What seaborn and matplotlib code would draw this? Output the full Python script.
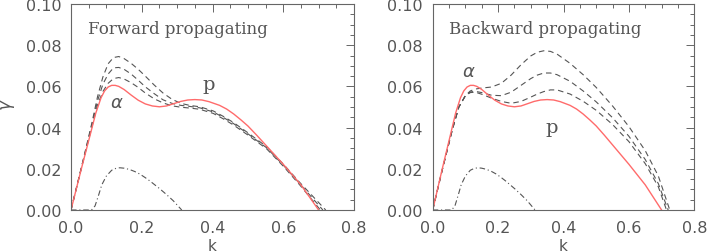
import numpy as np
import pandas as pd
import matplotlib
matplotlib.use("Agg")
import matplotlib.pyplot as plt
import seaborn as sns
from matplotlib.ticker import MultipleLocator, FormatStrFormatter

# red solid curve (same in both panels)
k_red = [0, 0.03, 0.055, 0.07, 0.085, 0.095, 0.105, 0.115, 0.125, 0.135, 0.15, 0.17, 0.19,
         0.21, 0.23, 0.25, 0.27, 0.29, 0.31, 0.33, 0.35, 0.37, 0.39, 0.42, 0.44, 0.46,
         0.48, 0.5, 0.525, 0.55, 0.6, 0.65, 0.7]
g_red = [0, 0.0205, 0.037, 0.047, 0.0545, 0.0578, 0.0597, 0.0605, 0.0605, 0.0600, 0.0585,
         0.0558, 0.0533, 0.0515, 0.0505, 0.0501, 0.0505, 0.0516, 0.0527, 0.0534, 0.0536,
         0.0534, 0.0526, 0.0508, 0.049, 0.0466, 0.0438, 0.0408, 0.0363, 0.0316, 0.0222,
         0.0122, 0]

# dash-dot curve (same in both panels)
k_dd = [0, 0.058, 0.068, 0.078, 0.087, 0.1, 0.115, 0.127, 0.138, 0.15, 0.165, 0.18, 0.195,
        0.21, 0.223, 0.237, 0.251, 0.27, 0.289, 0.313]
g_dd = [0, 0, 0.002, 0.0072, 0.0122, 0.0165, 0.0193, 0.0202, 0.0205, 0.0203, 0.0197,
        0.0187, 0.0174, 0.0157, 0.0141, 0.0122, 0.0103, 0.0075, 0.0045, 0]

# forward propagating dashed curves
k_fwd = [0, 0.03, 0.06, 0.075, 0.09, 0.105, 0.12, 0.135, 0.15, 0.17, 0.19, 0.21, 0.235,
         0.26, 0.285, 0.31, 0.335, 0.364, 0.402, 0.43, 0.459, 0.5, 0.553, 0.6, 0.647]
g_fwd_1 = [0, 0.021, 0.043, 0.055, 0.0645, 0.071, 0.074, 0.0745, 0.0735, 0.0712, 0.0683,
           0.0650, 0.0607, 0.0568, 0.0538, 0.0518, 0.0508, 0.0501, 0.0481, 0.0455, 0.0425,
           0.0375, 0.0307, 0.0223, 0.0133]
g_fwd_2 = [0, 0.021, 0.042, 0.053, 0.061, 0.066, 0.069, 0.0692, 0.0683, 0.066, 0.0630,
           0.0598, 0.0565, 0.0535, 0.0518, 0.0508, 0.0503, 0.0496, 0.0476, 0.045, 0.042,
           0.037, 0.0302, 0.0218, 0.0127]
g_fwd_3 = [0, 0.0208, 0.041, 0.051, 0.0575, 0.0615, 0.0638, 0.0643, 0.0636, 0.0618, 0.0595,
           0.0568, 0.054, 0.052, 0.0506, 0.0499, 0.0495, 0.0489, 0.0469, 0.0443, 0.0413,
           0.0364, 0.0297, 0.0213, 0.0121]
k_fwd_end = [0.72, 0.712, 0.705]

# backward propagating dashed curves
k_bwd = [0, 0.03, 0.06, 0.08, 0.1, 0.115, 0.13, 0.15, 0.18, 0.21, 0.24, 0.27, 0.3, 0.32,
         0.34, 0.36, 0.38, 0.42, 0.46, 0.5, 0.55, 0.6, 0.65, 0.69]
g_bwd_1 = [0, 0.02, 0.039, 0.05, 0.0555, 0.0578, 0.0587, 0.0592, 0.0597, 0.0615, 0.0655,
           0.0705, 0.0748, 0.0766, 0.0773, 0.077, 0.0757, 0.0712, 0.0657, 0.0595, 0.0505,
           0.0405, 0.0288, 0.0165]
g_bwd_2 = [0, 0.02, 0.039, 0.05, 0.0555, 0.0573, 0.0576, 0.0570, 0.0557, 0.0555, 0.0572,
           0.0605, 0.0638, 0.0655, 0.0665, 0.0665, 0.0657, 0.0625, 0.0578, 0.0525, 0.0448,
           0.0358, 0.0245, 0.0128]
g_bwd_3 = [0, 0.02, 0.039, 0.05, 0.0555, 0.057, 0.0572, 0.0562, 0.0543, 0.0527, 0.0518,
           0.0527, 0.0548, 0.0563, 0.0575, 0.0583, 0.0583, 0.0563, 0.0528, 0.0484, 0.0415,
           0.0332, 0.0225, 0.0113]
k_bwd_end = [0.725, 0.72, 0.715]

GRAY = "#555555"
RED = "#ff6b6b"

sns.set_style("white")
plt.rcParams["font.family"] = ["DejaVu Sans"]
plt.rcParams["axes.edgecolor"] = "#666666"
plt.rcParams["axes.linewidth"] = 0.8

fig = plt.figure(figsize=(7.08, 2.53), dpi=100)
W, H = 708, 253
ax1 = fig.add_axes([71 / W, (H - 211) / H, 283 / W, 206 / H])
ax2 = fig.add_axes([432.7 / W, (H - 211) / H, 261.6 / W, 206 / H])


def dashed(ax, ks, gs, kend):
    df = pd.DataFrame({"k": list(ks) + [kend], "g": list(gs) + [0]})
    sns.lineplot(data=df, x="k", y="g", ax=ax, color=GRAY, lw=0.8,
                 sort=False, linestyle=(0, (5, 3.5)))


def panel(ax, curves, kvals, kends, title, tx):
    for gs, ke in zip(curves, kends):
        dashed(ax, kvals, gs, ke)
    sns.lineplot(x=k_dd, y=g_dd, ax=ax, color=GRAY, lw=0.8, sort=False,
                 linestyle=(0, (5, 2.5, 1, 2.5)))
    sns.lineplot(x=k_red, y=g_red, ax=ax, color=RED, lw=1.0, sort=False)
    ax.set_xlim(0, 0.8)
    ax.set_ylim(0, 0.1)
    ax.xaxis.set_major_locator(MultipleLocator(0.2))
    ax.xaxis.set_minor_locator(MultipleLocator(0.05))
    ax.yaxis.set_major_locator(MultipleLocator(0.02))
    ax.yaxis.set_minor_locator(MultipleLocator(0.005))
    ax.xaxis.set_major_formatter(FormatStrFormatter("%.1f"))
    ax.yaxis.set_major_formatter(FormatStrFormatter("%.2f"))
    ax.tick_params(which="both", direction="in", top=True, right=True,
                   color="#666666", labelcolor=GRAY, labelsize=11.5, width=0.7)
    ax.tick_params(which="major", length=6, pad=7)
    ax.tick_params(which="minor", length=3)
    ax.set_xlabel("k", color=GRAY, fontsize=11)
    ax.xaxis.set_label_coords(0.5, -0.135)
    ax.set_ylabel("")
    ax.text(tx, 0.088, title, color=GRAY, fontsize=12,
            family="DejaVu Serif", va="center", ha="left")


panel(ax1, [g_fwd_1, g_fwd_2, g_fwd_3], k_fwd, k_fwd_end, "Forward propagating", 0.048)
panel(ax2, [g_bwd_1, g_bwd_2, g_bwd_3], k_bwd, k_bwd_end, "Backward propagating", 0.05)

ax1.set_ylabel(r"$\gamma$", color=GRAY, fontsize=12)
ax1.yaxis.set_label_coords(-0.19, 0.515)

ax1.text(0.13, 0.0524, r"$\alpha$", color=GRAY, fontsize=13, ha="center", va="center")
ax1.text(0.39, 0.0612, "p", color=GRAY, fontsize=14, family="DejaVu Serif",
         ha="center", va="center")
ax2.text(0.111, 0.0675, r"$\alpha$", color=GRAY, fontsize=13, ha="center", va="center")
ax2.text(0.365, 0.0403, "p", color=GRAY, fontsize=14, family="DejaVu Serif",
         ha="center", va="center")

fig.savefig("out.png", dpi=100)
